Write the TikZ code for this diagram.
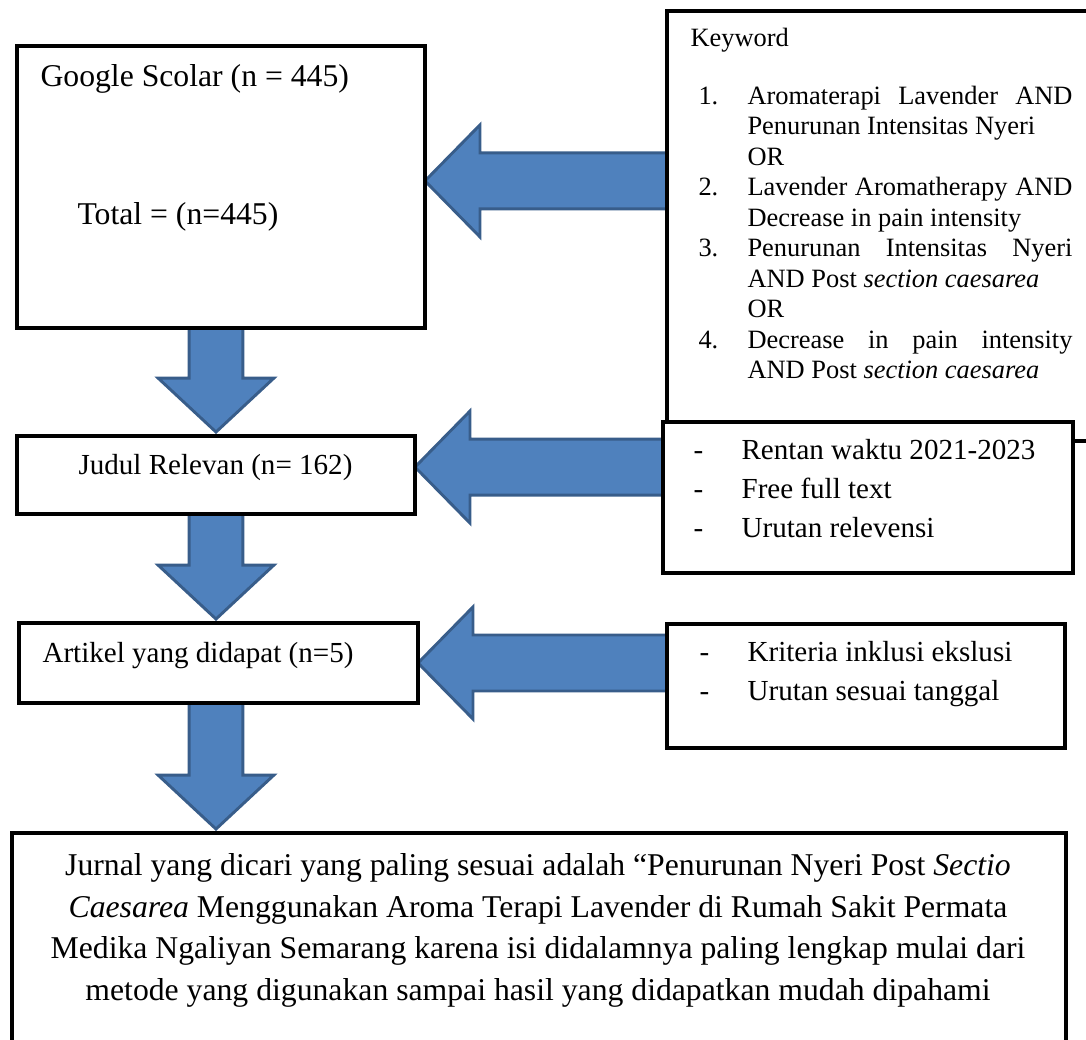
\documentclass[tikz,border=0pt]{standalone}
\usepackage{fontspec}
\setmainfont{Liberation Serif}
\usepackage{xcolor}
\usepackage{tikz}
\usetikzlibrary{calc, backgrounds}
\definecolor{arrowfill}{RGB}{79,129,189}
\definecolor{arrowline}{RGB}{56,93,138}
\newcommand{\unitpx}{0.3785pt}
\tikzstyle{box}= [rectangle, draw, line width=1.6pt, outer sep=0pt, inner sep=0pt, fill=white]
\tikzstyle{txt}= [inner sep=0pt, font=\fontsize{12}{14}\selectfont]
\tikzstyle{txts}= [inner sep=0pt, font=\fontsize{11}{13}\selectfont]
\tikzstyle{txtk}= [inner sep=0pt, font=\fontsize{10}{12}\selectfont]
\tikzstyle{blockarrow}= [fill=arrowfill, draw=arrowline, line width=1.1pt, line join=miter]
% numbered keyword line, first line justified
\newcommand{\kwitem}[2]{\makebox[18.55pt][l]{#1}\makebox[123pt][s]{#2}}
\newcommand{\dashitem}[1]{\makebox[18.2pt][l]{-}#1}
% wide arrow pointing left: #1 target, #2 source, #3 shift of the tip
\newcommand{\leftblock}[3]{%
  \draw[blockarrow] let \p1=(#1.east), \p2=(#2.west) in
    (\x1,\y1+#3) -- (\x1+20.8pt,\y1+#3+21.2pt) -- (\x1+20.8pt,\y1+#3+10.6pt)
    -- (\x2,\y1+#3+10.6pt) -- (\x2,\y1+#3-10.6pt) -- (\x1+20.8pt,\y1+#3-10.6pt)
    -- (\x1+20.8pt,\y1+#3-21.2pt) -- cycle;}
% wide arrow pointing down: #1 source, #2 target
\newcommand{\downblock}[2]{%
  \draw[blockarrow] let \p1=(#1.south), \p2=(#2.north), \p3=(col) in
    (\x3-10.2pt,\y1) -- (\x3-10.2pt,\y2+21.9pt) -- (\x3-21.9pt,\y2+21.9pt)
    -- (\x3,\y2+1.5pt) -- (\x3+21.9pt,\y2+21.9pt) -- (\x3+10.2pt,\y2+21.9pt)
    -- (\x3+10.2pt,\y1) -- cycle;}

\begin{document}
\begin{tikzpicture}[x=\unitpx, y=-\unitpx]
				\useasboundingbox (0,0) rectangle (1086,1040);
				\clip (0,0) rectangle (1086,1040);
				\coordinate (col) at (216,0);
				% boxes
				\node[box, minimum width=408*\unitpx, minimum height=282*\unitpx] (gs) at (221,187) {};
				\node[box, minimum width=443*\unitpx, minimum height=430*\unitpx] (kw) at (888.5,226) {};
				\node[box, minimum width=398*\unitpx, minimum height=78*\unitpx] (jr) at (216,475) {};
				\node[box, minimum width=410*\unitpx, minimum height=151*\unitpx] (rt) at (868,497.5) {};
				\node[box, minimum width=399*\unitpx, minimum height=80*\unitpx] (ar) at (218.5,663) {};
				\node[box, minimum width=398*\unitpx, minimum height=124*\unitpx] (kr) at (866,686) {};
				\node[box, minimum width=1054*\unitpx, minimum height=227*\unitpx] (jn) at (539,946.5) {};
				% texts
				\node[txt, anchor=base west] (gsname) at (40,87) {Google Scolar (n = 445)};
				\node[txt, anchor=base west] (gstotal) at (77,225) {Total = (n=445)};
				\node[txtk, anchor=base west] (kwhead) at (690,47) {Keyword};
				\node[txtk, anchor=base west] (kw1) at (698,104.5) {\kwitem{1.}{Aromaterapi Lavender AND}};
				\node[txtk, anchor=base west] (kw2) at (747,135) {Penurunan Intensitas Nyeri};
				\node[txtk, anchor=base west] (kw3) at (747,165.5) {OR};
				\node[txtk, anchor=base west] (kw4) at (698,196) {\kwitem{2.}{Lavender Aromatherapy AND}};
				\node[txtk, anchor=base west] (kw5) at (747,226.5) {Decrease in pain intensity};
				\node[txtk, anchor=base west] (kw6) at (698,257) {\kwitem{3.}{Penurunan Intensitas Nyeri}};
				\node[txtk, anchor=base west] (kw7) at (747,287.5) {AND Post \textit{section caesarea}};
				\node[txtk, anchor=base west] (kw8) at (747,318) {OR};
				\node[txtk, anchor=base west] (kw9) at (698,348.5) {\kwitem{4.}{Decrease in pain intensity}};
				\node[txtk, anchor=base west] (kw10) at (747,379) {AND Post \textit{section caesarea}};
				\node[txts, anchor=base] (jrtext) at (215.5,475) {Judul Relevan (n= 162)};
				\node[txts, anchor=base west] (rt1) at (693,460) {\dashitem{Rentan waktu 2021-2023}};
				\node[txts, anchor=base west] (rt2) at (693,499) {\dashitem{Free full text}};
				\node[txts, anchor=base west] (rt3) at (693,538) {\dashitem{Urutan relevensi}};
				\node[txts, anchor=base west] (artext) at (42,663) {Artikel yang didapat (n=5)};
				\node[txts, anchor=base west] (kr1) at (699,662) {\dashitem{Kriteria inklusi ekslusi}};
				\node[txts, anchor=base west] (kr2) at (699,700) {\dashitem{Urutan sesuai tanggal}};
				\node[txt, anchor=base] (jn1) at (538,875) {Jurnal yang dicari yang paling sesuai adalah ``Penurunan Nyeri Post \textit{Sectio}};
				\node[txt, anchor=base] (jn2) at (538,917) {\textit{Caesarea} Menggunakan Aroma Terapi Lavender di Rumah Sakit Permata};
				\node[txt, anchor=base] (jn3) at (538,958) {Medika Ngaliyan Semarang karena isi didalamnya paling lengkap mulai dari};
				\node[txt, anchor=base] (jn4) at (538,1000) {metode yang digunakan sampai hasil yang didapatkan mudah dipahami};
				% arrows
				\begin{scope}[on background layer]
				\leftblock{gs}{kw}{2.3pt}
				\leftblock{jr}{rt}{3pt}
				\leftblock{ar}{kr}{0pt}
				\downblock{gs}{jr}
				\downblock{jr}{ar}
				\downblock{ar}{jn}
				\end{scope}
			\end{tikzpicture}
\end{document}
